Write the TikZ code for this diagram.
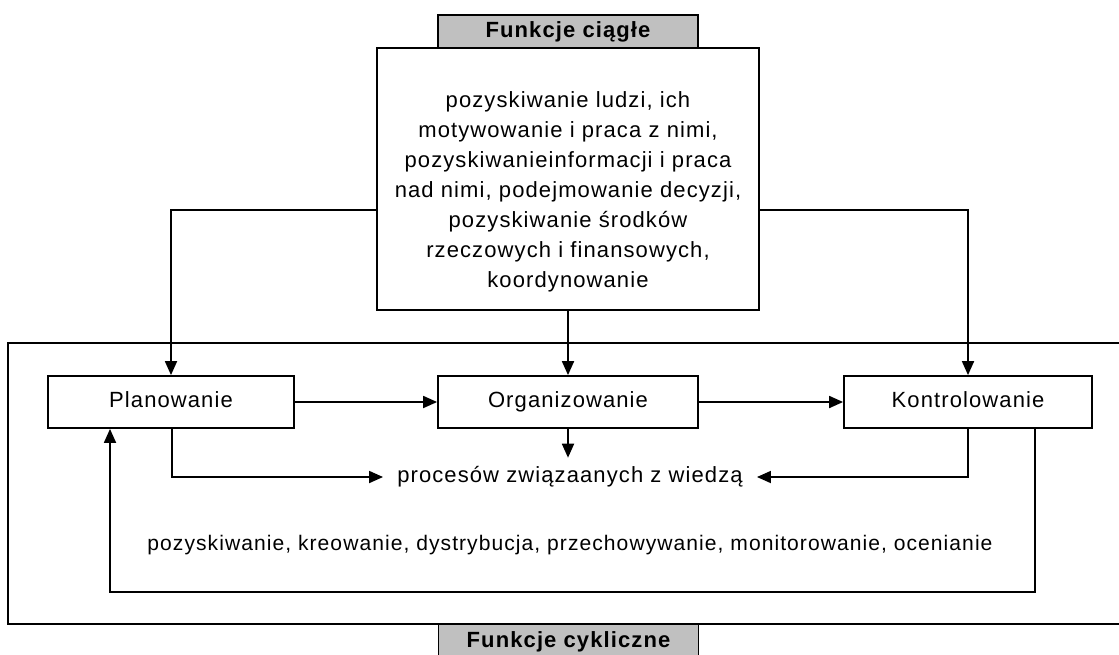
\documentclass[tikz,border=0pt]{standalone}
\usepackage{fontspec}
\setmainfont{Liberation Sans}[LetterSpace=5]
\usetikzlibrary{arrows.meta,calc}
\definecolor{lblgray}{RGB}{192,192,192}
\begin{document}
\begin{tikzpicture}[x=0.75pt,y=-0.75pt,
  line width=1.35pt,
  box/.style={draw, line width=1.35pt, inner sep=0pt, minimum height=39pt,
    text height=12pt, text depth=3.5pt,
    font=\fontsize{16.5}{20}\selectfont},
  lbl/.style={draw, fill=lblgray, line width=1.35pt, inner sep=0pt,
    minimum width=195pt, text height=12pt, text depth=3.5pt,
    font=\bfseries\fontsize{16.5}{20}\selectfont},
  txt/.style={inner xsep=10pt, inner ysep=6pt, font=\fontsize{16.5}{20}\selectfont},
  arr/.style={-{Triangle[length=10.5pt,width=9pt]}}]
\useasboundingbox (0,0) rectangle (1119,654);
% outer frame (right side cut off)
\draw (1130,343) -- (8,343) -- (8,624) -- (1130,624);
% top box
\node[draw, line width=1.35pt, minimum width=286.5pt, minimum height=196.5pt, inner sep=0pt] (top) at (568,179) {};
\node[font=\fontsize{16.5}{22.5}\selectfont, align=center] (toptext) at (568,192)
  {pozyskiwanie ludzi, ich\\ motywowanie i praca z nimi,\\ pozyskiwanieinformacji i praca\\ nad nimi, podejmowanie decyzji,\\ pozyskiwanie środków\\ rzeczowych i finansowych,\\ koordynowanie};
\node[lbl, minimum height=24.75pt] (t1) at (568,31.5) {Funkcje ciągłe};
\node[lbl, minimum height=27pt] (t2) at (568.5,642) {Funkcje cykliczne};
% function boxes
\node[box, minimum width=184.5pt] (plan) at (171,402) {Planowanie};
\node[box, minimum width=195pt] (org) at (568,402) {Organizowanie};
\node[box, minimum width=186pt] (kont) at (968,402) {Kontrolowanie};
\node[txt] (proc) at (570,477) {procesów związaanych z wiedzą};
\node[font=\fontsize{15.8}{20}\selectfont] (list) at (570,545) {pozyskiwanie, kreowanie, dystrybucja, przechowywanie, monitorowanie, ocenianie};
% connectors
\draw[arr] ([yshift=-23.25pt]top.west) -| (plan.north);
\draw[arr] ([yshift=-23.25pt]top.east) -| (kont.north);
\draw[arr] (top.south) -- (org.north);
\draw[arr] (plan.east) -- (org.west);
\draw[arr] (org.east) -- (kont.west);
\draw[arr] (org.south) -- (org.south |- proc.north);
\draw[arr] ([xshift=0.75pt]plan.south) |- (proc.west);
\draw[arr] (kont.south) |- (proc.east);
\coordinate (fbR) at (1035,592);
\coordinate (fbL) at (110,592);
\draw[arr] (kont.south -| fbR) -- (fbR) -- (fbL) -- (plan.south -| fbL);
\end{tikzpicture}
\end{document}
